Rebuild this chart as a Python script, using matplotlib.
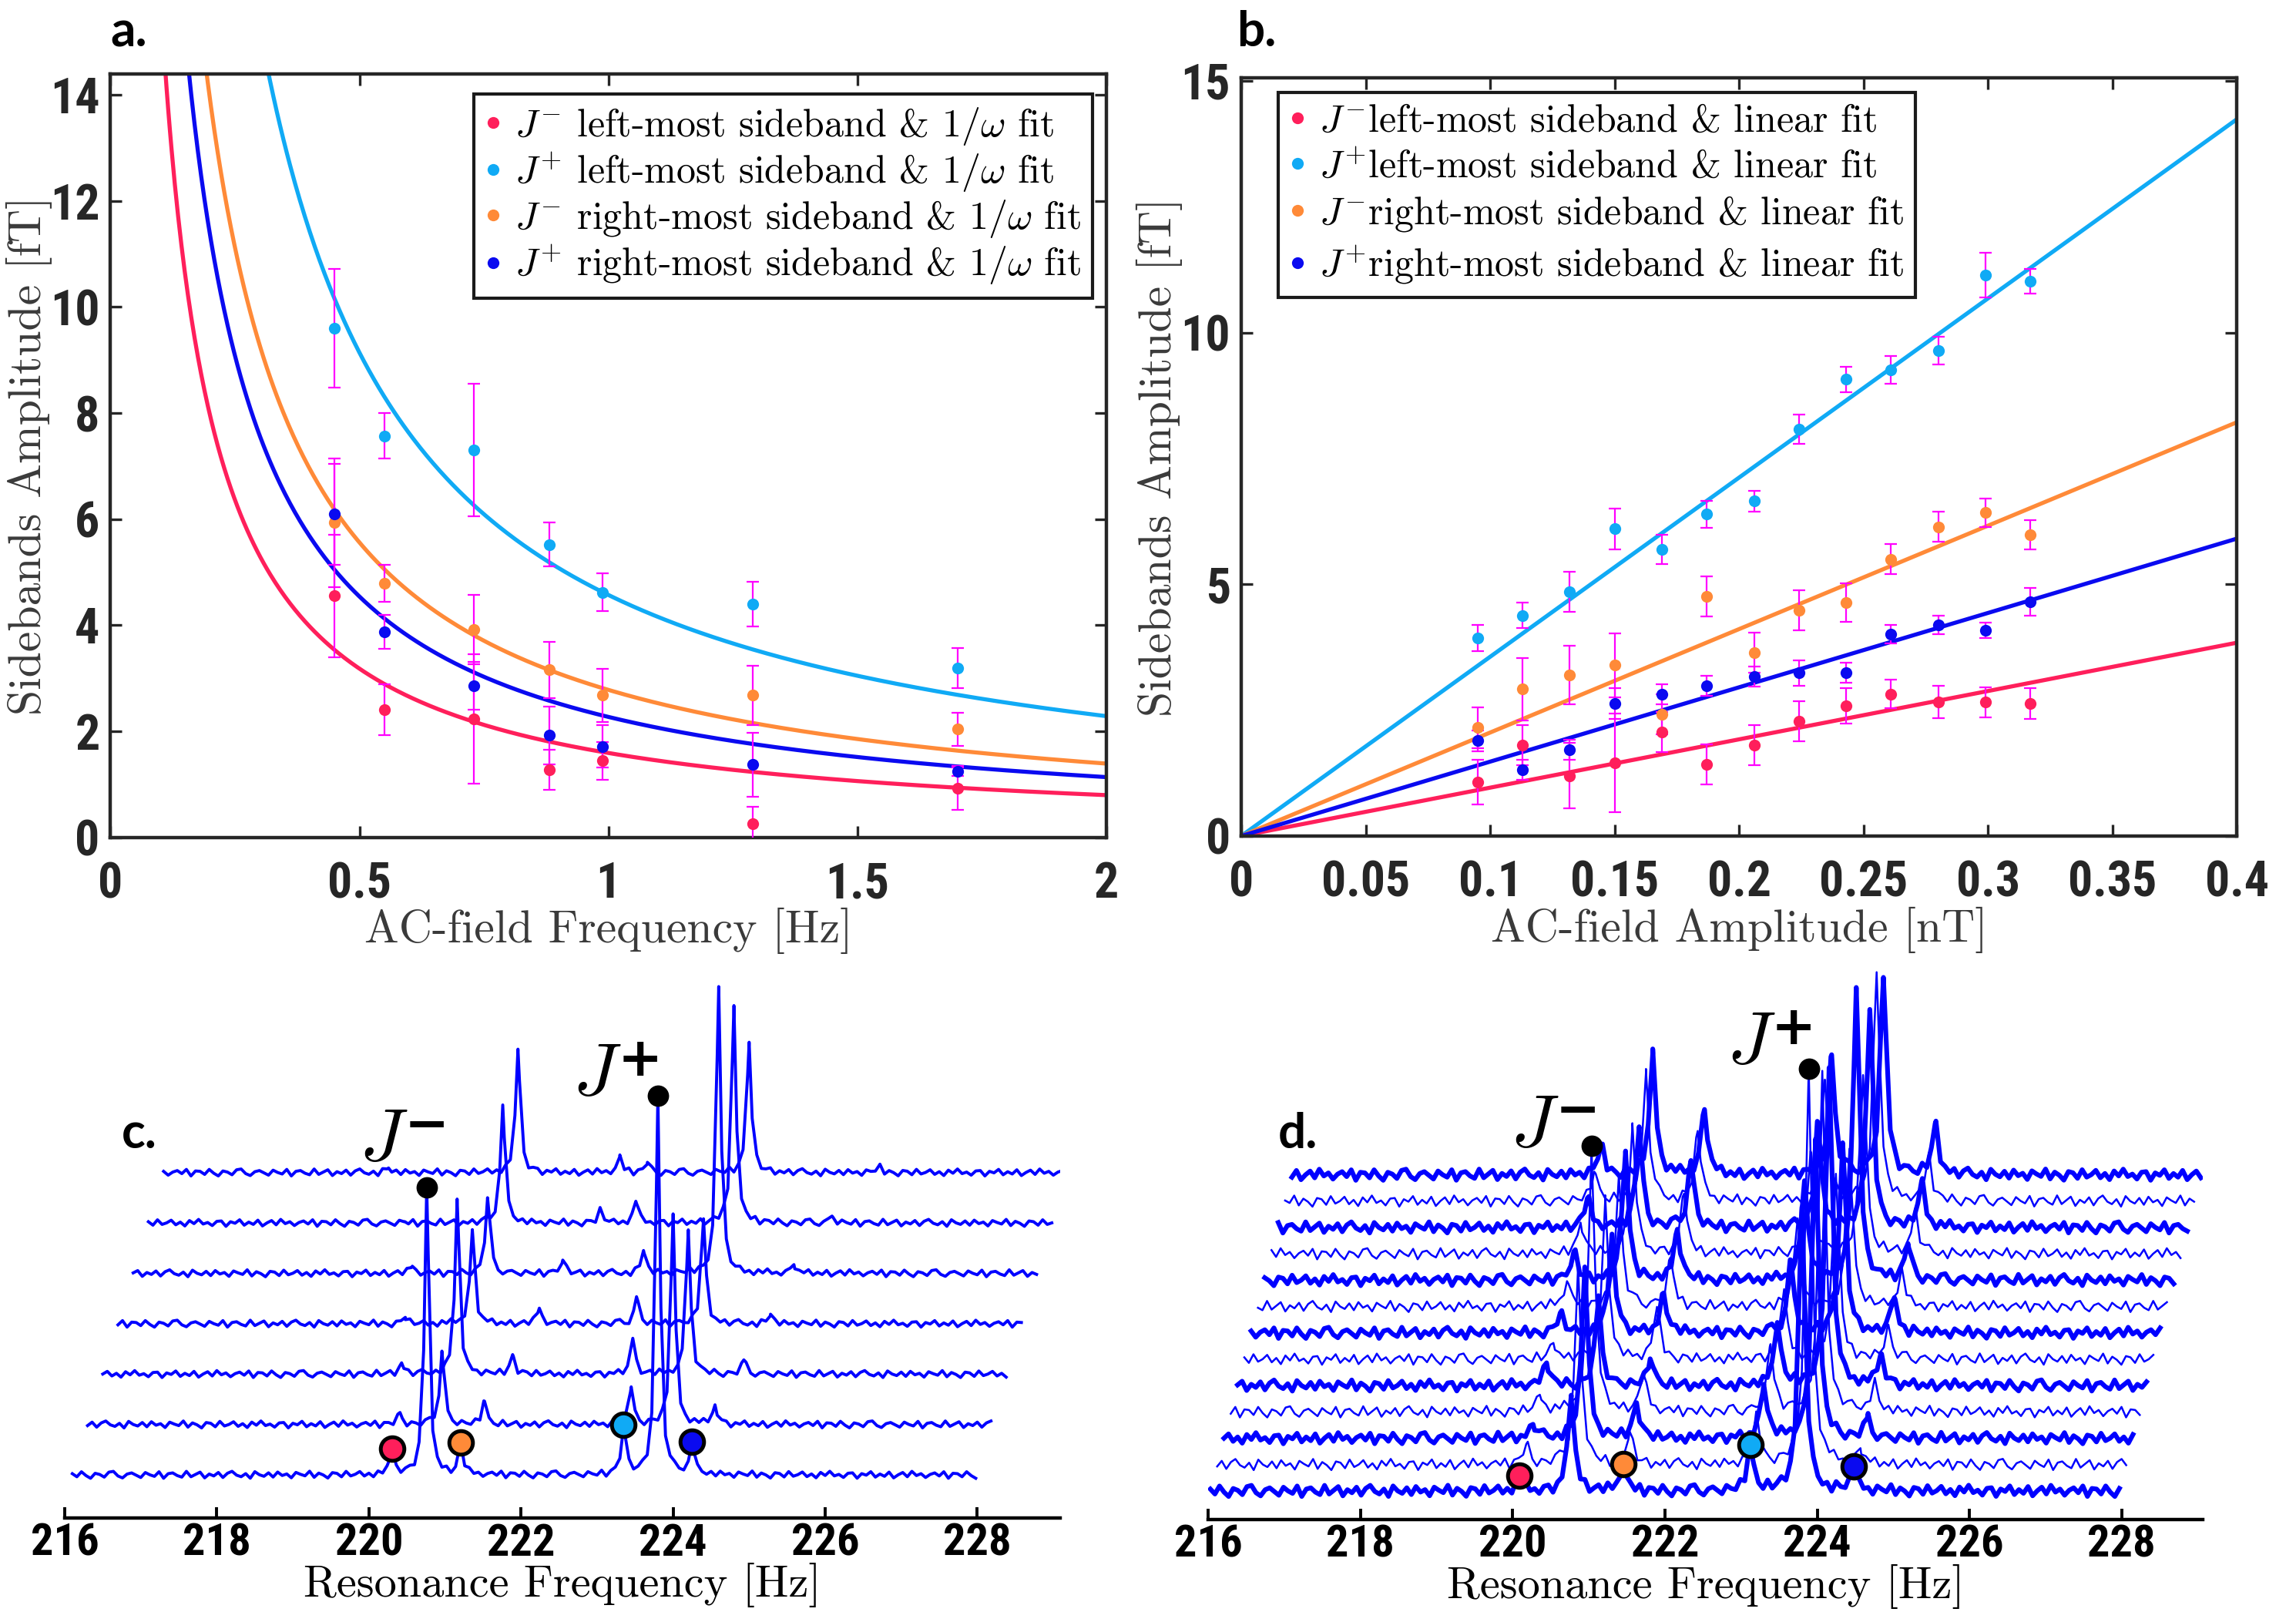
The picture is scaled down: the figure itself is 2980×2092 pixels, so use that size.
import numpy as np
import matplotlib
matplotlib.use('Agg')
import matplotlib.pyplot as plt

plt.rcParams['mathtext.fontset'] = 'cm'
plt.rcParams['axes.unicode_minus'] = False

TICK_FONT = ['Liberation Sans Narrow', 'Roboto Condensed', 'DejaVu Sans Condensed', 'Liberation Sans']
SERIF = 'cmr10'

# colours of the four sidebands
C_RED = '#ff1f5b'
C_CYAN = '#10aaf5'
C_ORANGE = '#ff8a38'
C_BLUE = '#0a0af0'
C_ERR = '#ff00ff'

# ---------------- panel a: amplitude vs AC-field frequency ----------------
freq_a = [0.45, 0.551, 0.730, 0.881, 0.989, 1.29, 1.702]
jm_left_a = [4.55, 2.40, 2.23, 1.27, 1.44, 0.25, 0.92]
jm_left_a_err = [1.15, 0.48, 1.22, 0.38, 0.36, 0.32, 0.40]
jp_left_a = [9.60, 7.57, 7.30, 5.52, 4.62, 4.40, 3.19]
jp_left_a_err = [1.12, 0.43, 1.25, 0.41, 0.36, 0.42, 0.38]
jm_right_a = [5.93, 4.79, 3.92, 3.16, 2.68, 2.68, 2.04]
jm_right_a_err = [1.22, 0.35, 0.65, 0.53, 0.50, 0.56, 0.31]
jp_right_a = [6.09, 3.87, 2.85, 1.92, 1.71, 1.37, 1.25]
jp_right_a_err = [0.95, 0.32, 0.45, 0.55, 0.40, 0.60, 0.10]
fit_a = [1.59, 4.57, 2.78, 2.27]   # A in A/omega, order: J- left, J+ left, J- right, J+ right

# ---------------- panel b: amplitude vs AC-field amplitude ----------------
amp_b = [0.095, 0.113, 0.132, 0.150, 0.169, 0.187, 0.206, 0.224, 0.243, 0.261, 0.280, 0.299, 0.317]
jm_left_b = [1.07, 1.80, 1.20, 1.45, 2.06, 1.42, 1.80, 2.28, 2.59, 2.82, 2.66, 2.66, 2.63]
jm_left_b_err = [0.44, 0.40, 0.65, 0.98, 0.40, 0.40, 0.40, 0.40, 0.35, 0.28, 0.32, 0.30, 0.30]
jp_left_b = [3.93, 4.38, 4.85, 6.10, 5.69, 6.39, 6.65, 8.08, 9.07, 9.26, 9.64, 11.14, 11.02]
jp_left_b_err = [0.26, 0.25, 0.40, 0.41, 0.29, 0.27, 0.21, 0.29, 0.25, 0.27, 0.28, 0.44, 0.24]
jm_right_b = [2.15, 2.92, 3.20, 3.39, 2.42, 4.76, 3.64, 4.48, 4.64, 5.50, 6.14, 6.42, 5.98]
jm_right_b_err = [0.40, 0.62, 0.58, 0.64, 0.40, 0.40, 0.40, 0.40, 0.38, 0.30, 0.30, 0.29, 0.29]
jp_right_b = [1.89, 1.32, 1.71, 2.63, 2.82, 2.99, 3.17, 3.24, 3.24, 4.01, 4.19, 4.09, 4.65]
jp_right_b_err = [0.20, 0.20, 0.20, 0.30, 0.20, 0.20, 0.20, 0.25, 0.20, 0.18, 0.18, 0.15, 0.28]
fit_b = [9.6, 35.6, 20.55, 14.77]  # slopes, same order

# ---------------- panels c, d: stacked spectra ----------------
# main resonance peaks (heights in arbitrary units)
c_jm_center, c_jp_center = 220.76, 223.80
c_jm_height = [373, 95, 227, 122, 98, 153, 160]
c_jp_height = [492, 273, 187, 136, 372, 282, 169]
d_jm_center, d_jp_center = 220.77, 223.80
d_freq = 0.68
d_jm_height = [124, 256, 222, 345, 109, 206, 127, 168, 167, 164, 130, 166, 157]
d_jp_height = [368, 514, 388, 442, 412, 240, 246, 204, 379, 231, 282, 296, 255]
# baseline wiggle
noise = [0.3, -0.5, 0.8, -0.2, -0.9, 0.4, 0.1, -0.6, 0.7, 0.9, -0.3, -0.8, 0.2, 0.5, -0.1,
         -0.7, 0.6, 0.0, -0.4, 0.8, -0.9, 0.3, 0.5, -0.2, -0.6, 0.9, -0.5, 0.1, 0.7, -0.8,
         0.2, -0.3, 0.6, -0.7, 0.4, 0.9, -0.1, -0.5, 0.3, -0.9, 0.8, 0.0, -0.4, 0.5, -0.6,
         0.7, -0.2, 0.2, -0.8, 0.6, 0.1, -0.3, 0.9, -0.7, 0.4, -0.1, -0.9, 0.5, 0.3, -0.6,
         0.8, -0.4, 0.0, 0.7, -0.5, 0.2, -0.8, 0.6, -0.2, 0.9, -0.3, 0.1, -0.7, 0.4, 0.5,
         -0.9, 0.3, -0.1, 0.8, -0.6, 0.2, -0.4, 0.7, -0.8, 0.0, 0.6, -0.5, 0.9, -0.2, 0.3,
         -0.7, 0.1, 0.5, -0.3, 0.8, -0.9, 0.4]

JM = r'$J^{\mathbf{-}}$'
JP = r'$J^{\mathbf{+}}$'
labels_a = [JM + r' left-most sideband & $1/\omega$ fit',
            JP + r' left-most sideband & $1/\omega$ fit',
            JM + r' right-most sideband & $1/\omega$ fit',
            JP + r' right-most sideband & $1/\omega$ fit']
labels_b = [JM + 'left-most sideband & linear fit',
            JP + 'left-most sideband & linear fit',
            JM + 'right-most sideband & linear fit',
            JP + 'right-most sideband & linear fit']
colors = [C_RED, C_CYAN, C_ORANGE, C_BLUE]


def style_box(ax):
    for s in ax.spines.values():
        s.set_linewidth(1.6)
        s.set_color('#262626')
    ax.tick_params(direction='in', length=5.5, width=1.2, top=True, right=True,
                   colors='#262626', pad=11)
    ax.tick_params(axis='y', pad=5)
    for lab in ax.get_xticklabels() + ax.get_yticklabels():
        lab.set_family(TICK_FONT)
        lab.set_fontweight('bold')
        lab.set_fontsize(23)


def scatter_panel(ax, x, ys, errs, fits, xfit, fitfunc, labels, legend_anchor, spacing):
    handles = []
    for y, e, a, c, lab in zip(ys, errs, fits, colors, labels):
        ax.plot(xfit, fitfunc(a, xfit), color=c, lw=1.9, zorder=2)
        ax.errorbar(x, y, yerr=e, fmt='none', ecolor=C_ERR, elinewidth=0.8,
                    capsize=3, capthick=0.8, zorder=3)
        h, = ax.plot(x, y, 'o', color=c, ms=5.5, mec='none', zorder=4, label=lab)
        handles.append(h)
    leg = ax.legend(handles=handles, loc='upper right', bbox_to_anchor=legend_anchor,
                    borderaxespad=0, prop={'family': SERIF, 'size': 18},
                    handlelength=0.4, handletextpad=0.35, labelspacing=spacing,
                    borderpad=0.3, fancybox=False, framealpha=1)
    leg.get_frame().set_edgecolor('#1a1a1a')
    leg.get_frame().set_linewidth(1.5)
    return leg


def waterfall(ax, f_lo, f_hi, dx, dy, base0, jm_c, jp_c, jm_h, jp_h, sb_f, sb_vals,
              sb_scale, width, amp, lws):
    n = len(jm_h)
    for k in reversed(range(n)):
        centers = [jm_c - sb_f[k], jp_c - sb_f[k], jm_c + sb_f[k], jp_c + sb_f[k], jm_c, jp_c]
        heights = [sb_vals[0][k] * sb_scale, sb_vals[1][k] * sb_scale,
                   sb_vals[2][k] * sb_scale, sb_vals[3][k] * sb_scale, jm_h[k], jp_h[k]]
        fg = np.arange(f_lo, f_hi, 0.06)
        wig = np.array([noise[(i + 31 * k) % len(noise)] for i in range(len(fg))]) * amp
        f = np.concatenate([fg, centers])
        w = np.concatenate([wig, np.zeros(len(centers))])
        order = np.argsort(f)
        f, w = f[order], w[order]
        y = np.zeros_like(f)
        for c, h in zip(centers, heights):
            y += h / (1 + ((f - c) / width) ** 2)
        base = base0 + k * dy
        ax.plot(f + k * dx, base + y + w, color='#0000ff', lw=lws[k % len(lws)],
                solid_joinstyle='round', zorder=2)
        if k == 0:
            for c, h, col in zip(centers[:4], heights[:4], colors):
                ax.plot(c, base + h + 5, 'o', ms=11, mfc=col, mec='black', mew=1.8, zorder=5)
    kj = int(np.argmax(jm_h))
    kp = int(np.argmax(jp_h))
    pm = (jm_c + kj * dx, base0 + kj * dy + jm_h[kj])
    pp = (jp_c + kp * dx, base0 + kp * dy + jp_h[kp])
    ax.plot(*pm, 'o', color='black', ms=9, zorder=6)
    ax.plot(*pp, 'o', color='black', ms=9, zorder=6)
    return pm, pp


def peak_label(ax, xy, sign, off):
    # italic J with a heavy sign at its upper right, offset from the marked peak
    ax.annotate(r'$J$', xy, xytext=off, textcoords='offset points',
                fontsize=35, ha='center', va='center')
    ax.annotate(sign, xy, xytext=(off[0] + 20, off[1] + 6.5), textcoords='offset points',
                fontsize=25, fontweight='bold', family='DejaVu Sans', ha='center', va='center')


def style_axis_only(ax, xmax, ymax):
    ax.set_xlim(216, xmax)
    ax.set_ylim(0, ymax)
    for s in ['left', 'top', 'right']:
        ax.spines[s].set_visible(False)
    ax.spines['bottom'].set_linewidth(1.6)
    ax.set_yticks([])
    ax.set_xticks(np.arange(216, 229, 2))
    ax.tick_params(axis='x', direction='in', length=5, width=1.4, pad=2)
    for lab in ax.get_xticklabels():
        lab.set_family(TICK_FONT)
        lab.set_fontweight('bold')
        lab.set_fontsize(21)
    ax.set_xlabel('Resonance Frequency [Hz]', family=SERIF, fontsize=21, labelpad=-1)
    ax.patch.set_alpha(0)


fig = plt.figure(figsize=(14.9, 10.46), dpi=200)

# ----- a -----
ax_a = fig.add_axes([0.04815, 0.4806, 0.4336, 0.4737])
xf = np.linspace(0.02, 2, 600)
scatter_panel(ax_a, freq_a, [jm_left_a, jp_left_a, jm_right_a, jp_right_a],
              [jm_left_a_err, jp_left_a_err, jm_right_a_err, jp_right_a_err],
              fit_a, xf, lambda a, x: a / x, labels_a, (0.986, 0.9735), 0.1)
ax_a.set_xlim(0, 2)
ax_a.set_ylim(0, 14.4)
ax_a.set_xticks([0, 0.5, 1, 1.5, 2])
ax_a.set_xticklabels(['0', '0.5', '1', '1.5', '2'])
ax_a.set_yticks(np.arange(0, 15, 2))
style_box(ax_a)
ax_a.set_xlabel('AC-field Frequency [Hz]', family=SERIF, fontsize=21.5, color='#3a3a3a', labelpad=0)
ax_a.set_ylabel('Sidebands Amplitude [fT]', family=SERIF, fontsize=21.5, color='#3a3a3a', labelpad=-1)

# ----- b -----
ax_b = fig.add_axes([0.5406, 0.4814, 0.4337, 0.4703])
xl = np.linspace(0, 0.4, 50)
scatter_panel(ax_b, amp_b, [jm_left_b, jp_left_b, jm_right_b, jp_right_b],
              [jm_left_b_err, jp_left_b_err, jm_right_b_err, jp_right_b_err],
              fit_b, xl, lambda a, x: a * x, labels_b, (0.677, 0.981), 0.26)
ax_b.set_xlim(0, 0.4)
ax_b.set_ylim(0, 15.06)
ax_b.set_xticks(np.arange(0, 0.401, 0.05))
ax_b.set_xticklabels(['0', '0.05', '0.1', '0.15', '0.2', '0.25', '0.3', '0.35', '0.4'])
ax_b.set_yticks([0, 5, 10, 15])
style_box(ax_b)
ax_b.set_xlabel('AC-field Amplitude [nT]', family=SERIF, fontsize=21.5, color='#3a3a3a', labelpad=0)
ax_b.set_ylabel('Sidebands Amplitude [fT]', family=SERIF, fontsize=21.5, color='#3a3a3a', labelpad=-1)

# ----- c -----
ax_c = fig.add_axes([0.02819, 0.0583, 0.43356, 0.3394])
pm, pp = waterfall(ax_c, 216.1, 228.0, 0.2, 65.4, 56, c_jm_center, c_jp_center,
                   c_jm_height, c_jp_height, freq_a,
                   [jm_left_a, jp_left_a, jm_right_a, jp_right_a], 6.3, 0.035, 5, [1.4])
style_axis_only(ax_c, 229.09, 710)
peak_label(ax_c, pm, '\u2212', (-20, 22))
peak_label(ax_c, pp, '+', (-28.5, 10))

# ----- d -----
ax_d = fig.add_axes([0.52617, 0.0574, 0.43339, 0.3460])
d_sb = [d_freq] * len(amp_b)
pm, pp = waterfall(ax_d, 216.03, 228.0, 0.0892, 34.2, 37, d_jm_center, d_jp_center,
                   d_jm_height, d_jp_height, d_sb,
                   [jm_left_b, jp_left_b, jm_right_b, jp_right_b], 14, 0.05, 8, [2.2, 0.9])
style_axis_only(ax_d, 229.07, 724)
peak_label(ax_d, pm, '\u2212', (-26.5, 9.5))
peak_label(ax_d, pp, '+', (-27, 12))

# panel letters
for x, y, t in [(0.056, 0.980, 'a.'), (0.5473, 0.980, 'b.'), (0.0607, 0.2964, 'c.'), (0.5651, 0.2968, 'd.')]:
    fig.text(x, y, t, fontsize=23, fontweight='bold', family=['Lato', 'DejaVu Sans'],
             ha='center', va='center')

fig.savefig('out.png', dpi=200)
